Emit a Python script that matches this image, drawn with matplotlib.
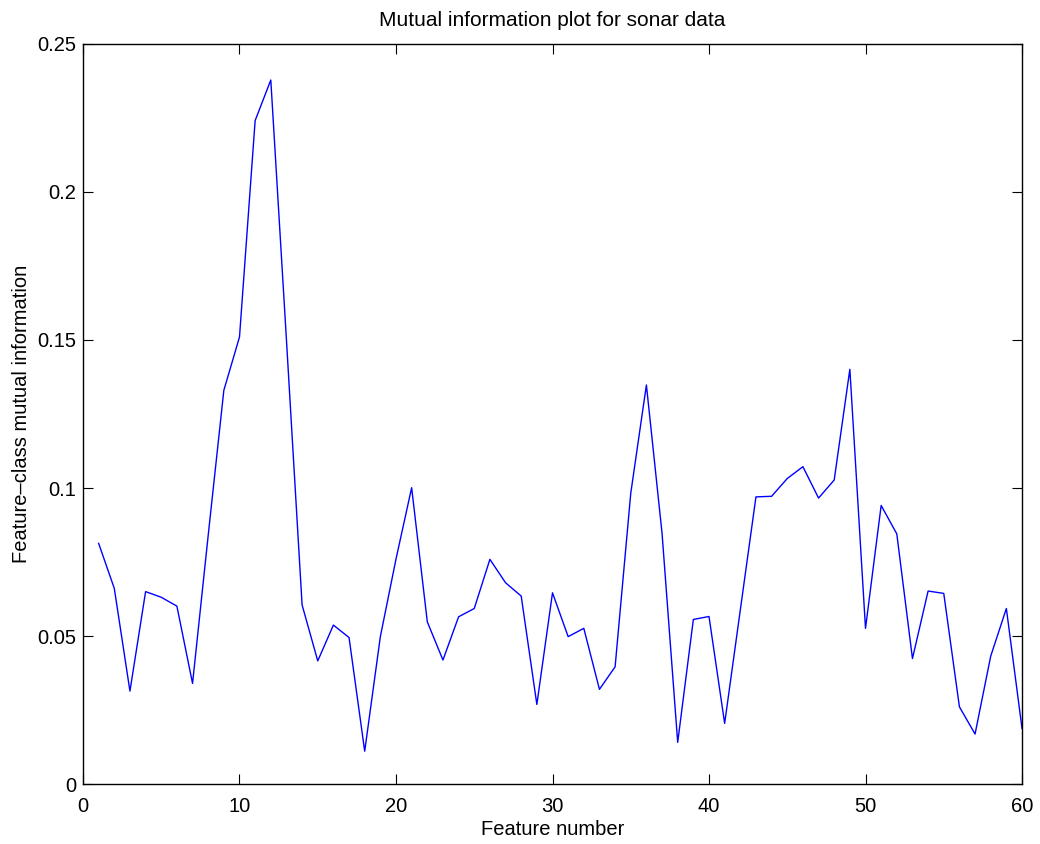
import numpy as np
import matplotlib.pyplot as plt

plt.rcParams['font.family'] = ['Liberation Sans', 'DejaVu Sans']

feature = np.arange(1, 61)
mi = [0.0813, 0.0661, 0.0314, 0.0650, 0.0631, 0.0601, 0.0340, 0.0840, 0.1330, 0.1510,
      0.2241, 0.2378, 0.1500, 0.0605, 0.0416, 0.0537, 0.0495, 0.0111, 0.0498, 0.0760,
      0.1001, 0.0548, 0.0419, 0.0565, 0.0593, 0.0759, 0.0680, 0.0635, 0.0269, 0.0646,
      0.0498, 0.0526, 0.0320, 0.0396, 0.0982, 0.1348, 0.0847, 0.0141, 0.0556, 0.0566,
      0.0205, 0.0588, 0.0970, 0.0972, 0.1032, 0.1072, 0.0966, 0.1027, 0.1401, 0.0526,
      0.0941, 0.0845, 0.0424, 0.0652, 0.0644, 0.0261, 0.0169, 0.0432, 0.0593, 0.0188]

fig = plt.figure(figsize=(10.4, 8.44), dpi=100)
ax = fig.add_axes([0.0798, 0.071, 0.9029, 0.877])
ax.plot(feature, mi, color='#0000ff', linewidth=1)
ax.set_xlim(0, 60)
ax.set_ylim(0, 0.25)
ax.set_xticks([0, 10, 20, 30, 40, 50, 60])
ax.set_yticks([0, 0.05, 0.1, 0.15, 0.2, 0.25])
ax.set_yticklabels(['0', '0.05', '0.1', '0.15', '0.2', '0.25'])
ax.tick_params(direction='in', top=True, right=True, length=7, labelsize=14.5)
ax.tick_params(axis='x', pad=9)
ax.tick_params(axis='y', pad=5)
for s in ax.spines.values():
    s.set_linewidth(1)
ax.set_xlabel('Feature number', fontsize=14.5, labelpad=3.5)
ax.set_ylabel('Feature\u2013class mutual information', fontsize=14.5, labelpad=4)
ax.set_title('Mutual information plot for sonar data', fontsize=15, pad=13)

fig.savefig('out.png', dpi=100)
